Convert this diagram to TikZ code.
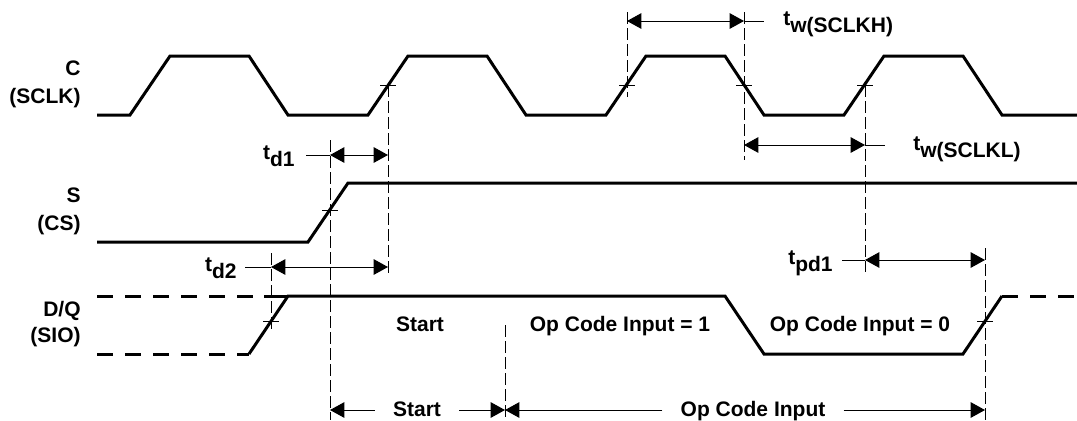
\documentclass[tikz,border=0pt]{standalone}
\usepackage{fontspec}
\setmainfont{Liberation Sans}
\usetikzlibrary{arrows.meta}
\newcommand{\tlow}[1]{t\raisebox{-3.8pt}{#1}}
\begin{document}
\begin{tikzpicture}[x=0.5pt, y=-0.5pt,
    font=\fontsize{10.5}{14}\selectfont\bfseries,
    wave/.style={line width=1.5pt},
    wavedash/.style={line width=1.5pt, dash pattern=on 8pt off 6pt},
    guide/.style={line width=0.5pt, dash pattern=on 6pt off 2pt},
    xmark/.style={line width=0.5pt},
    dim/.style={line width=0.5pt, {Triangle[length=7.2pt,width=7.8pt]}-{Triangle[length=7.2pt,width=7.8pt]}},
    halfdim/.style={line width=0.5pt, -{Triangle[length=7.2pt,width=7.8pt]}},
    signame/.style={anchor=east, align=right, inner sep=0pt},
    tlabel/.style={inner sep=0pt},
    barlabel/.style={anchor=base, inner ysep=0pt, inner xsep=9pt}]
  \useasboundingbox (0,0) rectangle (1077,420);
  % Signal names
  \node[signame] (clk) at (81,84)  {C\\(SCLK)};
  \node[signame] (cs)  at (81,211) {S\\(CS)};
  \node[signame] (sio) at (81,324) {D/Q\\[-1pt](SIO)};
  % Waveforms
  \draw[wave] (97,115) foreach \p in {130,368,606,844} {
      -- (\p,115) -- (\p+40,56) -- (\p+119,56) -- (\p+158,115)} -- (1077,115);
  \draw[wave] (97,242) -- (308,242) -- (348,183) -- (1077,183);
  \draw[wavedash] (97,296) -- (266,296);
  \draw[wavedash] (97,354) -- (249,354);
  \draw[wave] (264,296) -- (288,296);
  \draw[wave] (249,354) -- (288,296) -- (725,296) -- (764,354) -- (963,354) -- (1002,296);
  \draw[wavedash] (1002,296) -- (1077,296);
  % Crossing points
  \coordinate (r2)  at (388,85);
  \coordinate (r3)  at (627,85);
  \coordinate (f3)  at (744,85);
  \coordinate (r4)  at (865,85);
  \coordinate (sx)  at (330,210);
  \coordinate (dq1) at (271,321);
  \coordinate (dq2) at (985,321);
  \coordinate (op)  at (505,325);
  \foreach \c in {r2,r3,f3,r4,sx,dq1,dq2}
    \draw[xmark] ([xshift=-4pt]\c) -- ([xshift=4pt]\c);
  % Guide lines
  \draw[guide] (r2) -- (r2 |- 0,275);
  \draw[guide] (r3 |- 0,12) -- (r3 |- 0,97);
  \draw[guide] (f3 |- 0,12) -- (f3 |- 0,160);
  \draw[guide] (r4) -- (r4 |- 0,272);
  \draw[guide] (sx |- 0,140) -- (sx |- 0,420);
  \draw[guide] (dq1 |- 0,253) -- (dq1 |- 0,330);
  \draw[guide] (dq2 |- 0,248) -- (dq2 |- 0,420);
  \draw[guide] (op) -- (op |- 0,420);
  % Timing
  \draw[dim] (r3 |- 0,21) -- (f3 |- 0,21);
  \draw[xmark] (f3 |- 0,21) -- ++(20,0);
  \node[tlabel, anchor=base west] (twh) at (783,25) {\tlow{w(SCLKH)}};
  \draw[dim] (f3 |- 0,145) -- (r4 |- 0,145);
  \draw[xmark] (r4 |- 0,145) -- ++(20,0);
  \node[tlabel, anchor=base west] (twl) at (913,150) {\tlow{w(SCLKL)}};
  \draw[dim] (sx |- 0,155) -- (r2 |- 0,155);
  \draw[xmark] (sx |- 0,155) -- ++(-24,0);
  \node[tlabel, anchor=base east] (td1) at (295,159) {\tlow{d1}};
  \draw[dim] (dq1 |- 0,267) -- (r2 |- 0,267);
  \draw[xmark] (dq1 |- 0,267) -- ++(-26,0);
  \node[tlabel, anchor=base east] (td2) at (237,271) {\tlow{d2}};
  \draw[dim] (r4 |- 0,260) -- (dq2 |- 0,260);
  \draw[xmark] (r4 |- 0,260) -- ++(-23,0);
  \node[tlabel, anchor=base east] (tpd) at (833,264) {\tlow{pd1}};
  % Data labels
  \node[anchor=base] (startin) at (420,331) {Start};
  \node[anchor=base] (op1)     at (620,331) {Op Code Input = 1};
  \node[anchor=base] (op0)     at (860,331) {Op Code Input = 0};
  % Frame spans
  \node[barlabel] (startbar) at (417,416) {Start};
  \draw[halfdim] (startbar.west |- 0,410) -- (sx |- 0,410);
  \draw[halfdim] (startbar.east |- 0,410) -- (op |- 0,410);
  \node[barlabel] (opbar) at (753,416) {Op Code Input};
  \draw[halfdim] (opbar.west |- 0,410) -- (op |- 0,410);
  \draw[halfdim] (opbar.east |- 0,410) -- (dq2 |- 0,410);
\end{tikzpicture}
\end{document}
